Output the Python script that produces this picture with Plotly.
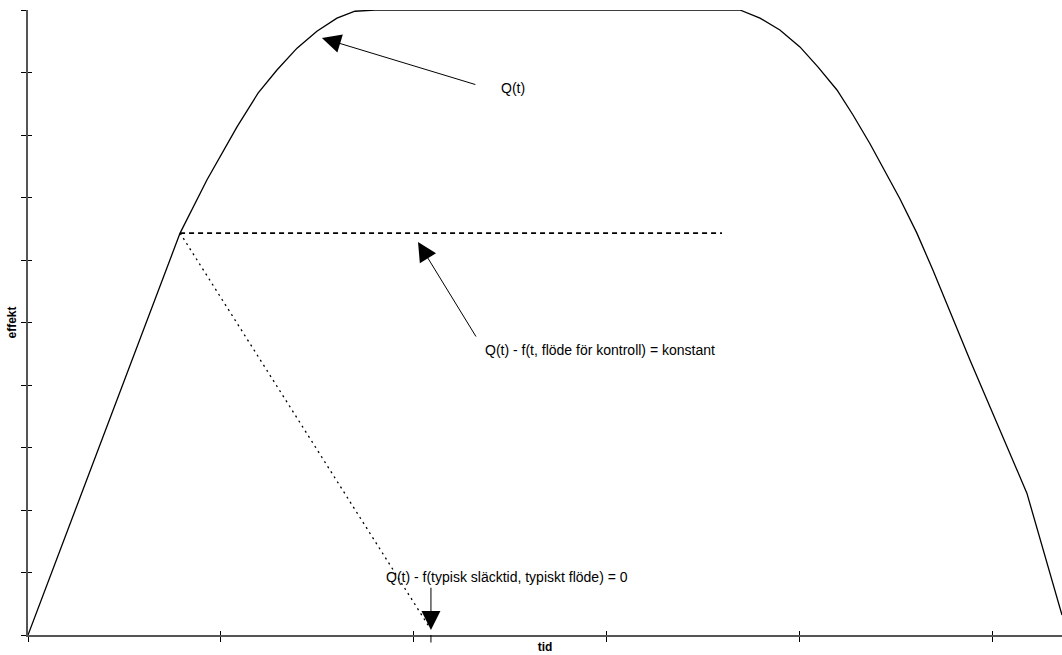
import plotly.graph_objects as go

# Q(t): heat release curve (tid, effekt)
t_q = [0.0, 0.788, 0.927, 1.083, 1.192, 1.290, 1.394, 1.497, 1.601, 1.694, 1.798,
       3.689, 3.793, 3.896, 4.000, 4.093, 4.192, 4.275, 4.363, 4.451, 4.518, 4.606,
       4.689, 4.881, 5.021, 5.176, 5.358]
q = [0.0, 6.43, 7.28, 8.13, 8.67, 9.04, 9.39, 9.66, 9.87, 9.98, 10.0,
     10.0, 9.87, 9.68, 9.41, 9.09, 8.72, 8.32, 7.86, 7.36, 6.98, 6.43,
     5.84, 4.40, 3.38, 2.27, 0.32]

# constant level after control begins
t_konst = [0.788, 3.596]
q_konst = [6.43, 6.43]

# typical extinguishing: effect brought to zero
t_slack = [0.788, 2.083]
q_slack = [6.43, 0.11]

x_range = [0, 5.358]
y_range = [0, 10]

font_family = "Liberation Sans, Arial, sans-serif"
txt = dict(family=font_family, size=14, color="black")
title_font = dict(family=font_family, size=12, color="black")

fig = go.Figure()
fig.add_trace(go.Scatter(x=t_q, y=q, mode="lines", cliponaxis=False,
                         line=dict(color="black", width=1.3), hoverinfo="skip"))
fig.add_trace(go.Scatter(x=t_konst, y=q_konst, mode="lines",
                         line=dict(color="black", width=1.8, dash="5px,4px"), hoverinfo="skip"))
fig.add_trace(go.Scatter(x=t_slack, y=q_slack, mode="lines",
                         line=dict(color="black", width=1.3, dash="2px,4px"), hoverinfo="skip"))
# invisible trace carrying the inner tick marks
fig.add_trace(go.Scatter(x=x_range, y=y_range, xaxis="x2", yaxis="y2", mode="lines",
                         line=dict(width=0), hoverinfo="skip", showlegend=False))

arrow = dict(showarrow=True, arrowhead=2, arrowsize=3.8, arrowwidth=1,
             arrowcolor="black", text="", axref="x", ayref="y", standoff=0)

annotations = [
    dict(x=1.523, y=9.552, ax=2.326, ay=8.80, **arrow),
    dict(x=2.021, y=6.288, ax=2.326, ay=4.752, **arrow),
    dict(x=2.088, y=0.08, ax=2.088, ay=0.78, **arrow),
    dict(x=2.513, y=8.752, text="Q(t)", showarrow=False, font=txt, xanchor="center"),
    dict(x=2.358, y=4.56, text="Q(t) - f(t, flöde för kontroll) = konstant",
         showarrow=False, font=txt, xanchor="left"),
    dict(x=1.845, y=0.93, text="Q(t) - f(typisk släcktid, typiskt flöde) = 0",
         showarrow=False, font=txt, xanchor="left"),
]

shapes = [
    # arrow shaft continuing just below the time axis
    dict(type="line", xref="x", yref="paper", x0=2.088, x1=2.088, y0=0.0, y1=-0.012,
         line=dict(color="black", width=1)),
]

axis_common = dict(showgrid=False, zeroline=False, showticklabels=False,
                   dtick=1, tick0=0, tickcolor="black", tickwidth=1)

fig.update_layout(
    width=1062, height=655,
    margin=dict(l=28, r=0, t=10, b=20),
    plot_bgcolor="white", paper_bgcolor="white",
    showlegend=False,
    xaxis=dict(range=x_range, showline=True, linecolor="#555555", linewidth=1.5,
               ticks="outside", ticklen=5,
               title=dict(text="<b>tid</b>", font=title_font, standoff=2),
               **axis_common),
    yaxis=dict(range=y_range, showline=True, linecolor="#555555", linewidth=1.5,
               ticks="outside", ticklen=5,
               title=dict(text="<b>effekt</b>", font=title_font, standoff=2),
               **axis_common),
    xaxis2=dict(range=x_range, overlaying="x", anchor="y2", showline=False,
                ticks="inside", ticklen=4, **axis_common),
    yaxis2=dict(range=y_range, overlaying="y", anchor="x2", showline=False,
                ticks="inside", ticklen=4, **axis_common),
    annotations=annotations,
    shapes=shapes,
)

fig.write_html("out.html")
